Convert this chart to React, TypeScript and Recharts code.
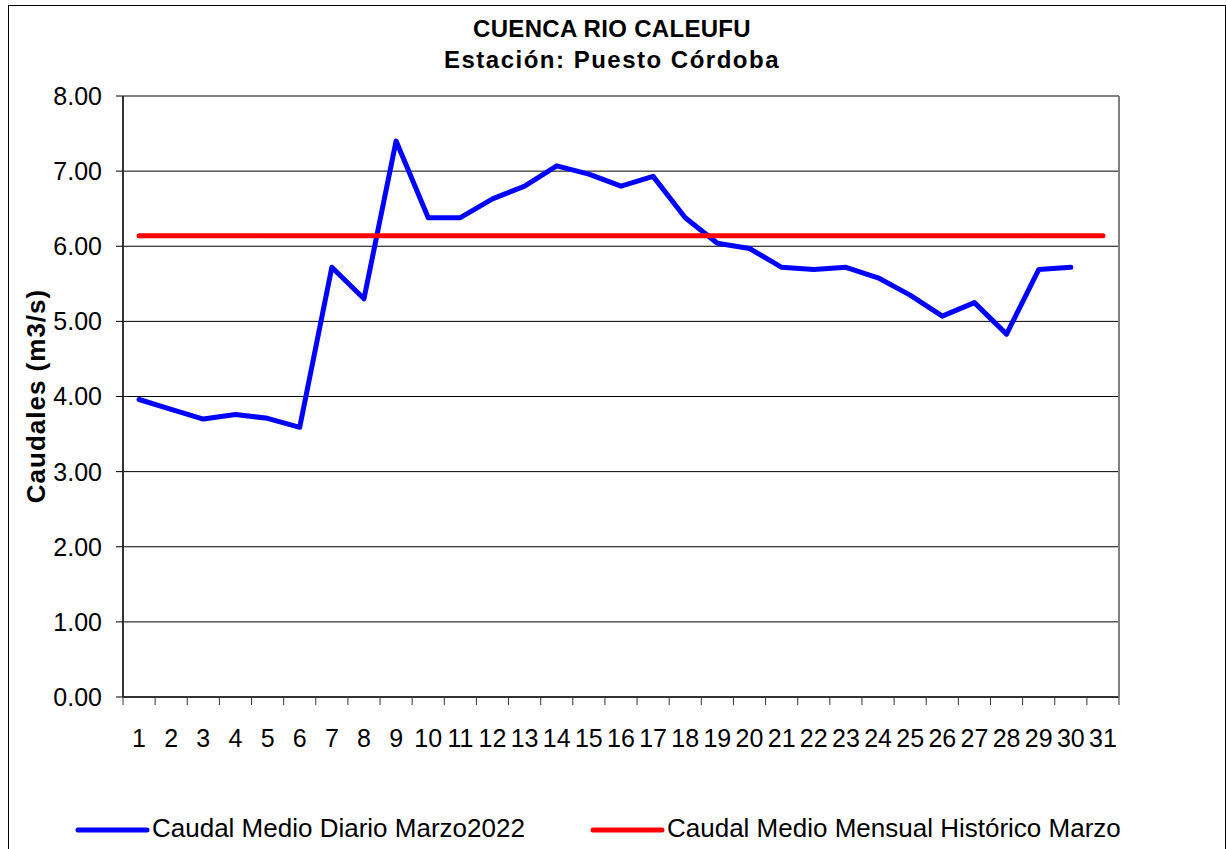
import React from 'react';
import { LineChart, Line, XAxis, YAxis, CartesianGrid, ReferenceLine } from 'recharts';

const DAYS = ['1', '2', '3', '4', '5', '6', '7', '8', '9', '10', '11', '12', '13', '14', '15', '16', '17', '18', '19', '20', '21', '22', '23', '24', '25', '26', '27', '28', '29', '30', '31'];
const CAUDAL_DIARIO: (number | null)[] = [3.96, 3.83, 3.70, 3.76, 3.71, 3.59, 5.72, 5.30, 7.40, 6.38, 6.38, 6.63, 6.80, 7.07, 6.96, 6.80, 6.93, 6.38, 6.04, 5.97, 5.72, 5.69, 5.72, 5.58, 5.35, 5.07, 5.25, 4.83, 5.69, 5.72, null];
const CAUDAL_HISTORICO = [6.14, 6.14, 6.14, 6.14, 6.14, 6.14, 6.14, 6.14, 6.14, 6.14, 6.14, 6.14, 6.14, 6.14, 6.14, 6.14, 6.14, 6.14, 6.14, 6.14, 6.14, 6.14, 6.14, 6.14, 6.14, 6.14, 6.14, 6.14, 6.14, 6.14, 6.14];
const Y_TICKS = [0, 1, 2, 3, 4, 5, 6, 7, 8];

const TITLE = 'CUENCA RIO CALEUFU';
const SUBTITLE = 'Estación: Puesto Córdoba';
const Y_LABEL = 'Caudales (m3/s)';
const SERIES = [
  { key: 'diario', name: 'Caudal Medio Diario Marzo2022', color: '#0000FF' },
  { key: 'historico', name: 'Caudal Medio Mensual Histórico Marzo', color: '#FF0000' },
];

const data = DAYS.map((d, i) => ({ day: d, diario: CAUDAL_DIARIO[i], historico: CAUDAL_HISTORICO[i] }));

const CHART_W = 1216;
const CHART_H = 850;
const PLOT_W = 996;
const FONT = '"Liberation Sans", Arial, sans-serif';

function DayTick(props: any) {
  const { x, y, payload, index } = props;
  const bw = PLOT_W / DAYS.length;
  const axisY = y - 8;
  return (
    <g>
      <line x1={x - bw / 2} x2={x - bw / 2} y1={axisY} y2={axisY + 8} stroke="#333" strokeWidth={1} />
      {index === DAYS.length - 1 && (
        <line x1={x + bw / 2} x2={x + bw / 2} y1={axisY} y2={axisY + 8} stroke="#333" strokeWidth={1} />
      )}
      <text x={x} y={axisY + 50} textAnchor="middle" fontSize={25} fill="#000" fontFamily={FONT}>
        {payload.value}
      </text>
    </g>
  );
}

const legendPos = [
  { lx: 69, tx: 143 },
  { lx: 584, tx: 658 },
];

export default function App() {
  return (
    <div
      style={{
        position: 'fixed',
        left: 8,
        top: 5,
        width: 1218,
        height: 900,
        border: '1px solid #000',
        boxSizing: 'border-box',
        background: '#fff',
        fontFamily: FONT,
      }}
    >
      <LineChart width={CHART_W} height={CHART_H} data={data} margin={{ top: 90, right: 105, left: 0, bottom: 99 }}>
        <CartesianGrid horizontal vertical={false} stroke="#000" strokeWidth={1} />
        <XAxis
          dataKey="day"
          scale="band"
          interval={0}
          tickLine={false}
          tickSize={8}
          tickMargin={0}
          height={60}
          axisLine={{ stroke: '#333', strokeWidth: 2 }}
          tick={<DayTick />}
        />
        <YAxis
          domain={[0, 8]}
          ticks={Y_TICKS}
          width={114}
          interval={0}
          tickFormatter={(v: number) => v.toFixed(2)}
          tick={{ fill: '#000', fontSize: 25, fontFamily: FONT }}
          tickSize={7}
          tickMargin={14}
          axisLine={{ stroke: '#333', strokeWidth: 2 }}
          tickLine={{ stroke: '#000' }}
        />
        <YAxis
          yAxisId="r"
          orientation="right"
          domain={[0, 8]}
          width={1}
          tick={false}
          tickLine={false}
          axisLine={{ stroke: '#808080', strokeWidth: 2 }}
        />
        <ReferenceLine y={8} stroke="#808080" strokeWidth={2} />
        {SERIES.map((s) => (
          <Line
            key={s.key}
            dataKey={s.key}
            name={s.name}
            stroke={s.color}
            strokeWidth={5}
            dot={false}
            activeDot={false}
            strokeLinejoin="round"
            strokeLinecap="round"
            isAnimationActive={false}
          />
        ))}
      </LineChart>
      <svg
        width={CHART_W}
        height={CHART_H}
        style={{ position: 'absolute', left: 0, top: 0, pointerEvents: 'none' }}
      >
        <text x={603} y={31} textAnchor="middle" fontWeight="bold" fontSize={24} letterSpacing={0.3} fill="#000" fontFamily={FONT}>
          {TITLE}
        </text>
        <text x={603} y={62} textAnchor="middle" fontWeight="bold" fontSize={24} letterSpacing={1.5} fill="#000" fontFamily={FONT}>
          {SUBTITLE}
        </text>
        <text
          transform="translate(36,390) rotate(-90)"
          textAnchor="middle"
          fontWeight="bold"
          fontSize={26}
          letterSpacing={1}
          fill="#000"
          fontFamily={FONT}
        >
          {Y_LABEL}
        </text>
        {SERIES.map((s, i) => (
          <g key={s.key}>
            <line x1={legendPos[i].lx} x2={legendPos[i].lx + 69} y1={824} y2={824} stroke={s.color} strokeWidth={5} strokeLinecap="round" />
            <text x={legendPos[i].tx} y={831} fontSize={26} fill="#000" fontFamily={FONT}>
              {s.name}
            </text>
          </g>
        ))}
      </svg>
    </div>
  );
}
